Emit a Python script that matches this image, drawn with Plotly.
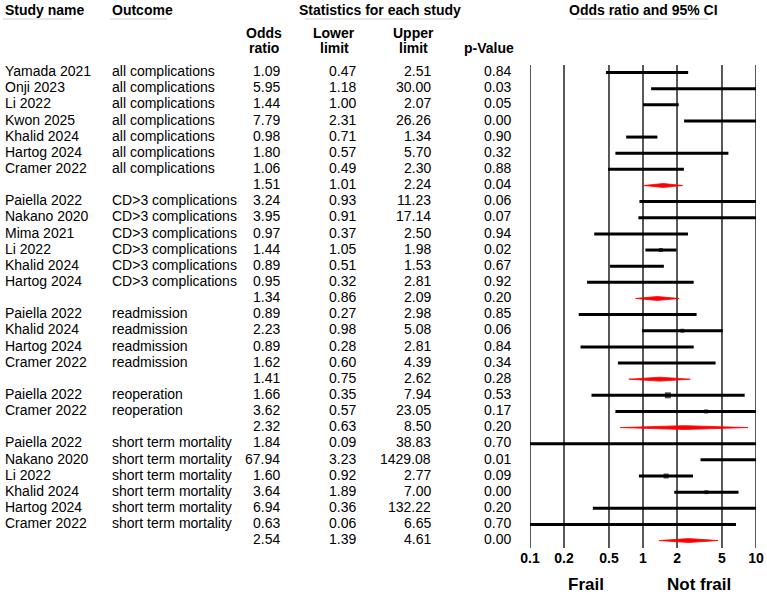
import plotly.graph_objects as go

studies = ["Yamada 2021", "Onji 2023", "Li 2022", "Kwon 2025", "Khalid 2024", "Hartog 2024", "Cramer 2022", "",
           "Paiella 2022", "Nakano 2020", "Mima 2021", "Li 2022", "Khalid 2024", "Hartog 2024", "",
           "Paiella 2022", "Khalid 2024", "Hartog 2024", "Cramer 2022", "",
           "Paiella 2022", "Cramer 2022", "",
           "Paiella 2022", "Nakano 2020", "Li 2022", "Khalid 2024", "Hartog 2024", "Cramer 2022", ""]
outcomes = ["all complications"] * 7 + [""] + ["CD>3 complications"] * 6 + [""] + \
           ["readmission"] * 4 + [""] + ["reoperation"] * 2 + [""] + ["short term mortality"] * 6 + [""]
odds = [1.09, 5.95, 1.44, 7.79, 0.98, 1.80, 1.06, 1.51,
        3.24, 3.95, 0.97, 1.44, 0.89, 0.95, 1.34,
        0.89, 2.23, 0.89, 1.62, 1.41,
        1.66, 3.62, 2.32,
        1.84, 67.94, 1.60, 3.64, 6.94, 0.63, 2.54]
lower = [0.47, 1.18, 1.00, 2.31, 0.71, 0.57, 0.49, 1.01,
         0.93, 0.91, 0.37, 1.05, 0.51, 0.32, 0.86,
         0.27, 0.98, 0.28, 0.60, 0.75,
         0.35, 0.57, 0.63,
         0.09, 3.23, 0.92, 1.89, 0.36, 0.06, 1.39]
upper = [2.51, 30.00, 2.07, 26.26, 1.34, 5.70, 2.30, 2.24,
         11.23, 17.14, 2.50, 1.98, 1.53, 2.81, 2.09,
         2.98, 5.08, 2.81, 4.39, 2.62,
         7.94, 23.05, 8.50,
         38.83, 1429.08, 2.77, 7.00, 132.22, 6.65, 4.61]
pvals = [0.84, 0.03, 0.05, 0.00, 0.90, 0.32, 0.88, 0.04,
         0.06, 0.07, 0.94, 0.02, 0.67, 0.92, 0.20,
         0.85, 0.06, 0.84, 0.34, 0.28,
         0.53, 0.17, 0.20,
         0.70, 0.01, 0.09, 0.00, 0.20, 0.70, 0.00]
is_summary = [s == "" for s in studies]
marker_sizes = [0, 0, 0, 0, 0, 0, 0, 0,
                0, 0, 0, 4, 0, 0, 0,
                0, 4, 0, 0, 0,
                6, 4, 0,
                0, 0, 5, 4, 0, 0, 0]
tick_vals = [0.1, 0.2, 0.5, 1, 2, 5, 10]
tick_text = ["0.1", "0.2", "0.5", "1", "2", "5", "10"]

W, H = 767, 595
FONT = "Liberation Sans, Arial, Helvetica, sans-serif"
ROW0, ROWH = 72.5, 16.14


def px_x(p):
    return p / W


def px_y(p):
    return 1 - p / H


def row_of(p):
    return (p - ROW0) / ROWH


fig = go.Figure()

# CI lines for individual studies
xs, ys = [], []
for i in range(len(studies)):
    if not is_summary[i]:
        xs += [lower[i], upper[i], None]
        ys += [i, i, None]
fig.add_trace(go.Scatter(x=xs, y=ys, mode="lines", line=dict(color="black", width=3),
                         hoverinfo="skip", showlegend=False))

# point estimates
idx = [i for i in range(len(studies)) if not is_summary[i] and marker_sizes[i] > 0]
fig.add_trace(go.Scatter(x=[odds[i] for i in idx], y=idx, mode="markers",
                         marker=dict(symbol="square", color="black", size=[marker_sizes[i] for i in idx],
                                     line=dict(width=0)),
                         showlegend=False))

# summary diamonds
hh = 0.12
for i in range(len(studies)):
    if is_summary[i]:
        fig.add_trace(go.Scatter(x=[lower[i], odds[i], upper[i], odds[i], lower[i]],
                                 y=[i, i - hh, i, i + hh, i], mode="lines", fill="toself",
                                 fillcolor="red", line=dict(color="red", width=0.8),
                                 hoverinfo="skip", showlegend=False))

# vertical reference lines
for v in tick_vals:
    fig.add_shape(type="line", xref="x", yref="y domain", x0=v, x1=v, y0=0, y1=1,
                  line=dict(color="#222", width=1.5), layer="below")

ann = []


def txt(x, y, s, anchor="left", bold=False, size=14, yref="y"):
    ann.append(dict(x=x, y=y, xref="paper", yref=yref, text=("<b>%s</b>" % s) if bold else s,
                    showarrow=False, xanchor=anchor, yanchor="middle",
                    font=dict(family=FONT, size=size, color="black")))


for i in range(len(studies)):
    y = i - 0.08
    if studies[i]:
        txt(px_x(3), y, studies[i])
    if outcomes[i]:
        txt(px_x(110), y, outcomes[i])
    txt(px_x(282), y, f"{odds[i]:.2f}", "right")
    txt(px_x(358), y, f"{lower[i]:.2f}", "right")
    txt(px_x(433), y, f"{upper[i]:.2f}", "right")
    txt(px_x(513), y, f"{pvals[i]:.2f}", "right")

# headers
txt(px_x(3), px_y(10), "Study name", bold=True, yref="paper")
txt(px_x(110), px_y(10), "Outcome", bold=True, yref="paper")
txt(px_x(380), px_y(10), "Statistics for each study", "center", bold=True, yref="paper")
txt(px_x(643), px_y(10), "Odds ratio and 95% CI", "center", bold=True, yref="paper")
txt(px_x(264), px_y(33), "Odds", "center", bold=True, yref="paper")
txt(px_x(264), px_y(48), "ratio", "center", bold=True, yref="paper")
txt(px_x(334), px_y(33), "Lower", "center", bold=True, yref="paper")
txt(px_x(334), px_y(48), "limit", "center", bold=True, yref="paper")
txt(px_x(414), px_y(33), "Upper", "center", bold=True, yref="paper")
txt(px_x(414), px_y(48), "limit", "center", bold=True, yref="paper")
txt(px_x(489), px_y(48), "p-Value", "center", bold=True, yref="paper")
txt(px_x(586), px_y(584), "Frail", "center", bold=True, size=17, yref="paper")
txt(px_x(699), px_y(584), "Not frail", "center", bold=True, size=17, yref="paper")

# header underlines
for a, b in [(3, 72), (110, 167), (305, 455), (577, 708)]:
    fig.add_shape(type="line", xref="paper", yref="paper", x0=px_x(a), x1=px_x(b),
                  y0=px_y(19), y1=px_y(19), line=dict(color="#cfcfcf", width=1))

fig.update_layout(
    width=W, height=H, margin=dict(l=0, r=0, t=0, b=0, autoexpand=False),
    paper_bgcolor="white", plot_bgcolor="white",
    annotations=ann,
    xaxis=dict(type="log", range=[-1, 1], domain=[px_x(530), px_x(756)],
               tickvals=tick_vals, ticktext=["<b>%s</b>" % t for t in tick_text],
               tickfont=dict(family=FONT, size=14, color="black"), automargin=False,
               showgrid=False, zeroline=False, showline=False, ticks="", ticklen=0),
    yaxis=dict(range=[row_of(548), row_of(65)], domain=[px_y(548), px_y(65)], automargin=False,
               showticklabels=False, showgrid=False, zeroline=False, showline=False),
)

fig.write_html("out.html")
